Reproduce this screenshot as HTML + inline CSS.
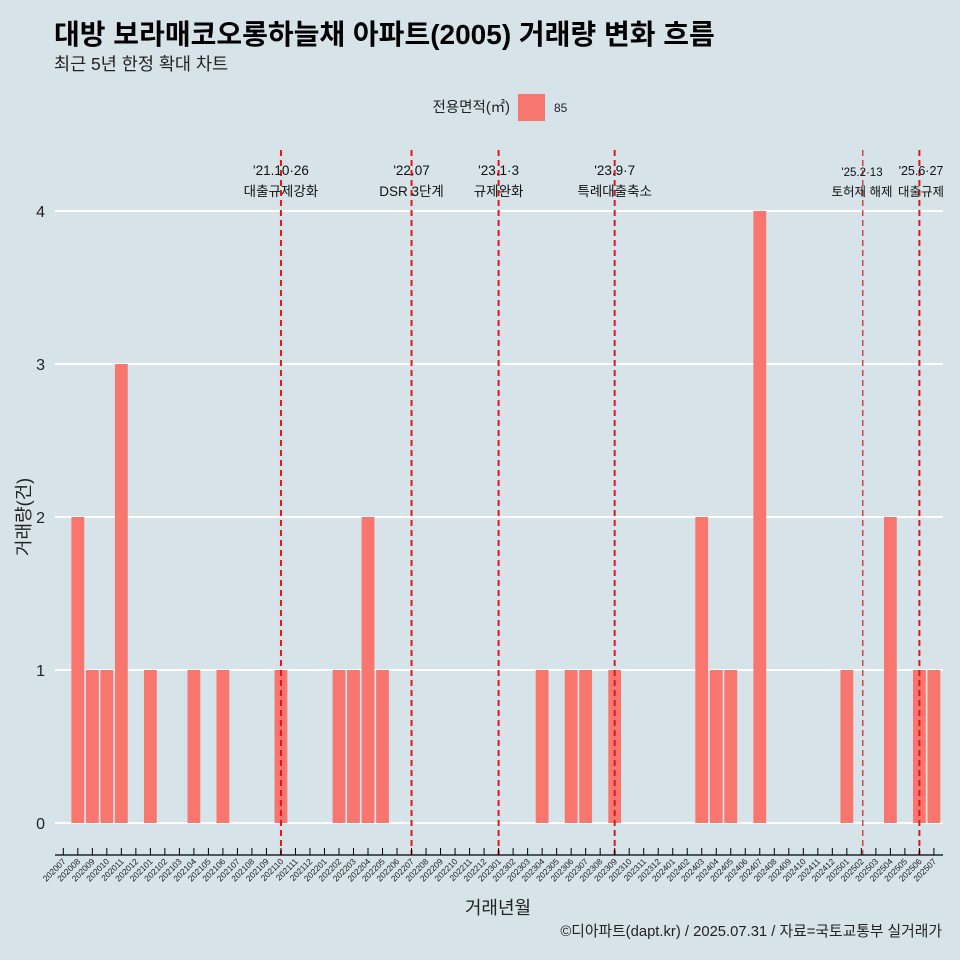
<!DOCTYPE html>
<html><head><meta charset="utf-8">
<style>
body{margin:0;background:#d6e3e9;}
svg{display:block;font-family:"Liberation Sans","Noto Sans CJK KR",sans-serif;}
</style></head>
<body>
<svg id="chart" width="960" height="960" viewBox="0 0 960 960">
<rect width="960" height="960" fill="#d6e3e9"/>
<text x="54" y="44" font-size="28" font-weight="bold" fill="#000">대방 보라매코오롱하늘채 아파트(2005) 거래량 변화 흐름</text>
<text x="54" y="70" font-size="17.5" fill="#222">최근 5년 한정 확대 차트</text>
<g>
<text x="510" y="112" font-size="14.5" text-anchor="end" fill="#222">전용면적(㎡)</text>
<rect x="518" y="94" width="27" height="27" fill="#f8766d"/>
<text x="554" y="112" font-size="12" fill="#222">85</text>
</g>
<g id="plot"></g>
<text x="30" y="517" font-size="18" fill="#222" text-anchor="middle" transform="rotate(-90 30 517)">거래량(건)</text>
<text x="498" y="914" font-size="18" fill="#222" text-anchor="middle">거래년월</text>
<text x="942" y="936" font-size="14.8" fill="#222" text-anchor="end">©디아파트(dapt.kr) / 2025.07.31 / 자료=국토교통부 실거래가</text>
</svg>
<script>
const months = [];
for (let y=2020;y<=2025;y++) for (let m=1;m<=12;m++){ if((y===2020&&m<7)||(y===2025&&m>7)) continue; months.push(''+y+(m<10?'0':'')+m); }
const barMonths = ['202008','202009','202010','202011','202101','202104','202106','202110','202202','202203','202204','202205','202304','202306','202307','202309','202403','202404','202405','202407','202501','202504','202506','202507'];
const barValues = [2,1,1,3,1,1,1,1,1,1,2,1,1,1,1,1,2,1,1,4,1,2,1,1];
const yTicks = [0,1,2,3,4];
const eventMonths = ['202110','202207','202301','202309','202502.1','202506'];
const eventLabel1 = ["'21.10·26","'22.07","'23.1·3","'23.9·7","'25.2·13","'25.6·27"];
const eventLabel2 = ["대출규제강화","DSR 3단계","규제완화","특례대출축소","토허제 해제","대출규제"];

const NS='http://www.w3.org/2000/svg';
const plot=document.getElementById('plot');
const x0=63.3, step=14.51;
function xScale(mo){ const s=String(mo); const base=s.slice(0,6); const frac=s.includes('.')?parseFloat('0.'+s.split('.')[1]):0; return x0+(months.indexOf(base)+frac)*step; }
function yScale(v){ return 823-v*153; }
function el(tag,attrs,parent){const e=document.createElementNS(NS,tag);for(const k in attrs)e.setAttribute(k,attrs[k]);(parent||plot).appendChild(e);return e;}

yTicks.forEach(v=>{
  const g=el('line',{x1:55,x2:943,y1:yScale(v),y2:yScale(v),stroke:'#fff','stroke-width':2});
  
  
  const t=el('text',{x:45,y:yScale(v)+6,'font-size':16,'text-anchor':'end',fill:'#222'});
  t.textContent=v;
  
  
});
barMonths.forEach((mo,i)=>{
  const x=xScale(mo), y=yScale(barValues[i]);
  const r=el('rect',{x:x-6.4,y:y,width:12.8,height:yScale(0)-y,fill:'#f8766d'});
  
  
});
eventMonths.forEach((mo,i)=>{
  const x=xScale(mo);
  const thin = i===4;
  const l=el('line',{x1:x,x2:x,y1:150,y2:855,stroke:'#e8141b','stroke-width':thin?1.2:2,'stroke-dasharray':'6,4'});
  
  
  const tx = i===5 ? 921 : (i===4 ? 862 : x);
  const fs = i>=4 ? 12.5 : 13.5;
  const a=el('text',{x:tx,y:i===4?176:175,'font-size':i===4?11.5:fs,'text-anchor':'middle',fill:'#111'});
  a.textContent=eventLabel1[i];
  
  
  const b=el('text',{x:tx,y:196,'font-size':fs,'text-anchor':'middle',fill:'#111'});
  b.textContent=eventLabel2[i];
  
  
});
const ax=el('line',{x1:55,x2:943,y1:855,y2:855,stroke:'#000','stroke-width':1.3});


months.forEach(mo=>{
  const x=xScale(mo);
  const tk=el('line',{x1:x,x2:x,y1:848,y2:855,stroke:'#000','stroke-width':1});
  
  
  const t=el('text',{x:x+3,y:862,'font-size':8.5,'text-anchor':'end',fill:'#222',transform:`rotate(-45 ${x+3} 862)`});
  t.textContent=mo;
  
  
});
</script>
</body></html>
